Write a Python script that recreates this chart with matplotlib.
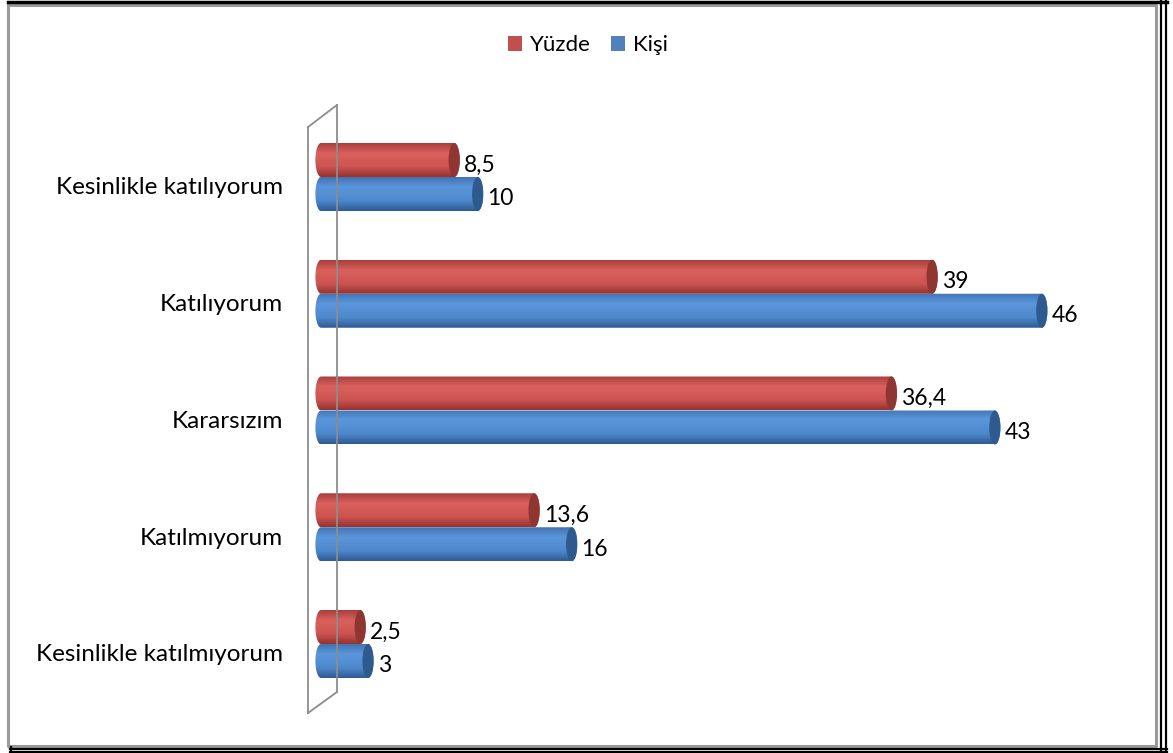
import numpy as np
import matplotlib.pyplot as plt
from matplotlib.patches import PathPatch, Ellipse, Patch
from matplotlib.path import Path
from matplotlib.lines import Line2D
from matplotlib.colors import to_rgb

plt.rcParams['font.family'] = ['Lato', 'DejaVu Sans']

categories = ["Kesinlikle katılıyorum", "Katılıyorum", "Kararsızım",
              "Katılmıyorum", "Kesinlikle katılmıyorum"]
yuzde = [8.5, 39, 36.4, 13.6, 2.5]
kisi = [10, 46, 43, 16, 3]

W, H = 1173, 753
fig = plt.figure(figsize=(W / 100, H / 100), dpi=100)
fig.patch.set_facecolor("white")


def fx(px):
    return px / W


def fy(py):
    return 1 - py / H


# plot area (pixel based layout), value axis starts a little left of 0
px_per_x = 15.67
x_min, x_max = -1, 52
ax = fig.add_axes([fx(321 + x_min * px_per_x), fy(720),
                   (x_max - x_min) * px_per_x / W, 620 / H])
ax.set_axis_off()

px_per_y = 620 / (4.651 + 0.6595)
cap = 5.6 / px_per_x          # half width of the cylinder end ellipse
bar_h = 34 / px_per_y

red_stops = [(0, "#aa3f3c"), (0.3, "#d9605d"), (0.7, "#cc5451"), (1.0, "#963330")]
blue_stops = [(0, "#4274b3"), (0.3, "#5b96dc"), (0.7, "#4e88cc"), (1.0, "#305b94")]


def gradient(stops, n=64):
    t = np.linspace(0, 1, n)
    pos = [s[0] for s in stops]
    cols = np.array([to_rgb(s[1]) for s in stops])
    rgb = np.stack([np.interp(t, pos, cols[:, k]) for k in range(3)], axis=1)
    return rgb[:, None, :]


def cylinder(ax, value, yc, stops, end_color, z):
    top, bot = yc - bar_h / 2, yc + bar_h / 2
    t = np.linspace(0, np.pi, 40)
    right = np.column_stack([value + cap * np.sin(t), yc - bar_h / 2 * np.cos(t)])
    left = np.column_stack([-cap * np.sin(t), yc + bar_h / 2 * np.cos(t)])
    verts = np.vstack([[0, top], right, [0, bot], left, [0, top]])
    outline = PathPatch(Path(verts), facecolor="none", edgecolor="none",
                        transform=ax.transData)
    ax.add_patch(outline)
    im = ax.imshow(gradient(stops), extent=(-cap, value + cap, bot, top),
                   origin="upper", aspect="auto", zorder=z, interpolation="bilinear")
    im.set_clip_path(outline)
    ax.add_patch(Ellipse((value, yc), 2 * cap, bar_h, facecolor=end_color,
                         edgecolor="none", zorder=z + 0.5))


pos = np.arange(len(categories))
for i in pos:
    cylinder(ax, yuzde[i], i - bar_h / 2, red_stops, "#8f3532", 2)
    cylinder(ax, kisi[i], i + bar_h / 2, blue_stops, "#2f5a8e", 3)


def fmt(v):
    return str(v).replace(".", ",")


for i in pos:
    ax.annotate(fmt(yuzde[i]), xy=(yuzde[i] + cap, i - bar_h / 2), xytext=(4, -5),
                textcoords="offset pixels", ha="left", va="center", fontsize=16.5)
    ax.annotate(fmt(kisi[i]), xy=(kisi[i] + cap, i + bar_h / 2), xytext=(4, -5),
                textcoords="offset pixels", ha="left", va="center", fontsize=16.5)

ax.set_xlim(x_min, x_max)
ax.set_ylim(4.651, -0.6595)

# category labels
for i in pos:
    ax.annotate(categories[i], xy=(0, i), xytext=(-38, -11),
                textcoords="offset pixels", ha="right", va="center", fontsize=17.5)

# side wall of the 3d plot
wall_front, wall_back = fx(308), fx(337)
wall = [([wall_front, wall_front], [fy(127), fy(713)]),
        ([wall_back, wall_back], [fy(105), fy(692)]),
        ([wall_front, wall_back], [fy(127), fy(105)]),
        ([wall_front, wall_back], [fy(713), fy(692)])]
for xs, ys in wall:
    fig.add_artist(Line2D(xs, ys, color="#8c8c8c", lw=1.3, zorder=1))

# legend
handles = [Patch(facecolor="#c0504d", label="Yüzde"),
           Patch(facecolor="#4f81bd", label="Kişi")]
fig.legend(handles=handles, loc="center", bbox_to_anchor=(fx(588), fy(45)),
           ncol=2, frameon=False, fontsize=16, handlelength=0.65, handleheight=0.65,
           handletextpad=0.35, columnspacing=0.9)

# chart border with shadow lines
fig.add_artist(Line2D([fx(8), fx(1156), fx(1156), fx(8), fx(8)],
                      [fy(4.5), fy(4.5), fy(745.5), fy(745.5), fy(4.5)],
                      color="#9a9a9a", lw=2.2))
fig.add_artist(Line2D([fx(8), fx(1167)], [fy(1.5), fy(1.5)], color="black", lw=2.5))
for xv in (1161, 1165.5):
    fig.add_artist(Line2D([fx(xv), fx(xv)], [fy(0), fy(753)], color="black", lw=1.6))
for yv in (748.5, 752.3):
    fig.add_artist(Line2D([fx(10), fx(1166.5)], [fy(yv), fy(yv)], color="black", lw=1.6))
fig.add_artist(Line2D([fx(10.5), fx(10.5)], [fy(747), fy(753)], color="black", lw=1.6))

fig.savefig("out.png", dpi=100)
